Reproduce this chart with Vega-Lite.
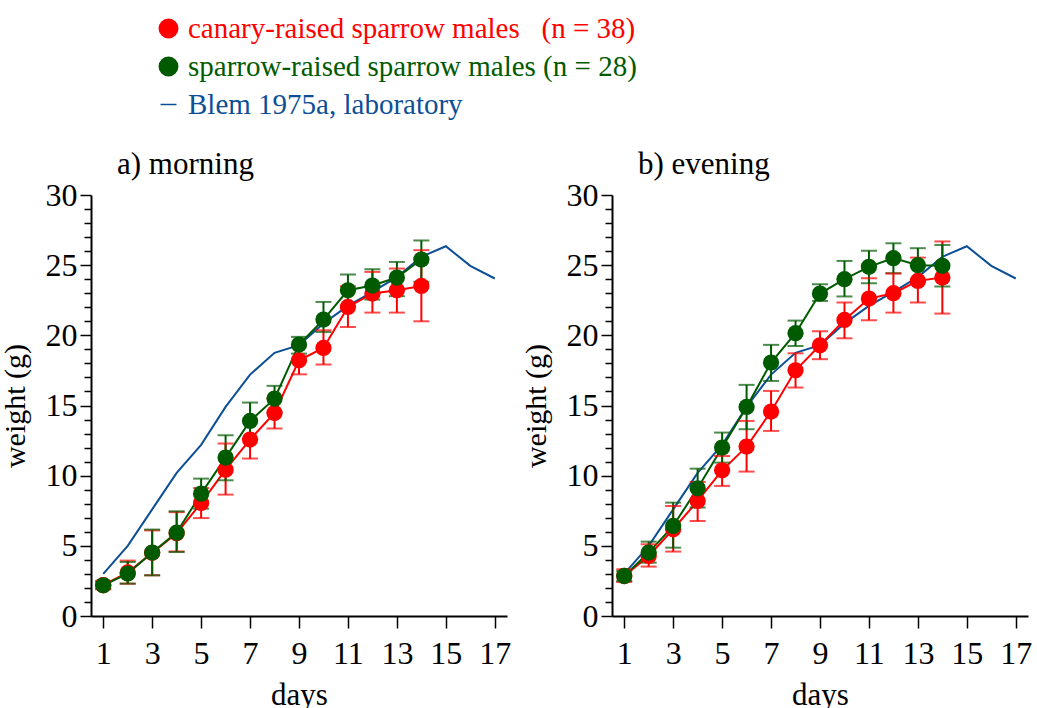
{
  "$schema": "https://vega.github.io/schema/vega-lite/v6.json",
  "background": "white",
  "padding": {"left": 0, "top": 14, "right": 0, "bottom": 0},
  "config": {
    "font": "Liberation Serif",
    "view": {"stroke": null},
    "axis": {"grid": false, "domainColor": "black", "tickColor": "black", "domainWidth": 2, "tickWidth": 1.5,
      "labelFont": "Liberation Serif", "labelFontSize": 32, "labelColor": "black", "labelOverlap": false,
      "titleFont": "Liberation Serif", "titleFontSize": 31, "titleFontWeight": "normal", "titleColor": "black"},
    "axisY": {"titleFontSize": 30, "titlePadding": 15, "labelPadding": 3},
    "title": {"font": "Liberation Serif", "fontSize": 31, "fontWeight": "normal", "color": "black"}
  },
  "datasets": {
    "d": [
      {"p": "a", "day": 1, "s": "b", "w": 3.0},
      {"p": "a", "day": 2, "s": "b", "w": 5.0},
      {"p": "a", "day": 3, "s": "b", "w": 7.6},
      {"p": "a", "day": 4, "s": "b", "w": 10.2},
      {"p": "a", "day": 5, "s": "b", "w": 12.2},
      {"p": "a", "day": 6, "s": "b", "w": 14.9},
      {"p": "a", "day": 7, "s": "b", "w": 17.2},
      {"p": "a", "day": 8, "s": "b", "w": 18.75},
      {"p": "a", "day": 9, "s": "b", "w": 19.3},
      {"p": "a", "day": 10, "s": "b", "w": 20.85},
      {"p": "a", "day": 11, "s": "b", "w": 22.1},
      {"p": "a", "day": 12, "s": "b", "w": 23.1},
      {"p": "a", "day": 13, "s": "b", "w": 24.15},
      {"p": "a", "day": 14, "s": "b", "w": 25.6},
      {"p": "a", "day": 15, "s": "b", "w": 26.35},
      {"p": "a", "day": 16, "s": "b", "w": 24.95},
      {"p": "a", "day": 17, "s": "b", "w": 24.05},
      {"p": "b", "day": 1, "s": "b", "w": 3.0},
      {"p": "b", "day": 2, "s": "b", "w": 5.0},
      {"p": "b", "day": 3, "s": "b", "w": 7.6},
      {"p": "b", "day": 4, "s": "b", "w": 10.2},
      {"p": "b", "day": 5, "s": "b", "w": 12.2},
      {"p": "b", "day": 6, "s": "b", "w": 14.9},
      {"p": "b", "day": 7, "s": "b", "w": 17.2},
      {"p": "b", "day": 8, "s": "b", "w": 18.75},
      {"p": "b", "day": 9, "s": "b", "w": 19.3},
      {"p": "b", "day": 10, "s": "b", "w": 20.85},
      {"p": "b", "day": 11, "s": "b", "w": 22.1},
      {"p": "b", "day": 12, "s": "b", "w": 23.1},
      {"p": "b", "day": 13, "s": "b", "w": 24.15},
      {"p": "b", "day": 14, "s": "b", "w": 25.6},
      {"p": "b", "day": 15, "s": "b", "w": 26.35},
      {"p": "b", "day": 16, "s": "b", "w": 24.95},
      {"p": "b", "day": 17, "s": "b", "w": 24.05},
      {"p": "a", "day": 1, "s": "c", "w": 2.2, "lo": 1.9, "hi": 2.5},
      {"p": "a", "day": 2, "s": "c", "w": 3.1, "lo": 2.3, "hi": 3.95},
      {"p": "a", "day": 3, "s": "c", "w": 4.5, "lo": 2.9, "hi": 6.1},
      {"p": "a", "day": 4, "s": "c", "w": 5.9, "lo": 4.6, "hi": 7.4},
      {"p": "a", "day": 5, "s": "c", "w": 8.05, "lo": 6.98, "hi": 9.12},
      {"p": "a", "day": 6, "s": "c", "w": 10.43, "lo": 8.65, "hi": 12.29},
      {"p": "a", "day": 7, "s": "c", "w": 12.57, "lo": 11.22, "hi": 13.9},
      {"p": "a", "day": 8, "s": "c", "w": 14.47, "lo": 13.36, "hi": 15.5},
      {"p": "a", "day": 9, "s": "c", "w": 18.22, "lo": 17.22, "hi": 19.25},
      {"p": "a", "day": 10, "s": "c", "w": 19.1, "lo": 17.92, "hi": 20.36},
      {"p": "a", "day": 11, "s": "c", "w": 22.02, "lo": 20.6, "hi": 23.5},
      {"p": "a", "day": 12, "s": "c", "w": 22.98, "lo": 21.62, "hi": 24.52},
      {"p": "a", "day": 13, "s": "c", "w": 23.21, "lo": 21.62, "hi": 24.76},
      {"p": "a", "day": 14, "s": "c", "w": 23.52, "lo": 21.0, "hi": 26.07},
      {"p": "b", "day": 1, "s": "c", "w": 2.85, "lo": 2.42, "hi": 3.33},
      {"p": "b", "day": 2, "s": "c", "w": 4.28, "lo": 3.52, "hi": 5.11},
      {"p": "b", "day": 3, "s": "c", "w": 6.18, "lo": 4.59, "hi": 7.84},
      {"p": "b", "day": 4, "s": "c", "w": 8.2, "lo": 6.77, "hi": 9.55},
      {"p": "b", "day": 5, "s": "c", "w": 10.38, "lo": 9.27, "hi": 11.4},
      {"p": "b", "day": 6, "s": "c", "w": 12.07, "lo": 10.29, "hi": 13.9},
      {"p": "b", "day": 7, "s": "c", "w": 14.57, "lo": 13.19, "hi": 16.04},
      {"p": "b", "day": 8, "s": "c", "w": 17.51, "lo": 16.28, "hi": 18.72},
      {"p": "b", "day": 9, "s": "c", "w": 19.29, "lo": 18.3, "hi": 20.29},
      {"p": "b", "day": 10, "s": "c", "w": 21.1, "lo": 19.79, "hi": 22.34},
      {"p": "b", "day": 11, "s": "c", "w": 22.62, "lo": 21.08, "hi": 24.07},
      {"p": "b", "day": 12, "s": "c", "w": 23.0, "lo": 21.62, "hi": 24.4},
      {"p": "b", "day": 13, "s": "c", "w": 23.88, "lo": 22.34, "hi": 25.54},
      {"p": "b", "day": 14, "s": "c", "w": 24.12, "lo": 21.55, "hi": 26.69},
      {"p": "a", "day": 1, "s": "s", "w": 2.19, "lo": 1.95, "hi": 2.45},
      {"p": "a", "day": 2, "s": "s", "w": 3.02, "lo": 2.31, "hi": 3.85},
      {"p": "a", "day": 3, "s": "s", "w": 4.52, "lo": 2.9, "hi": 6.16},
      {"p": "a", "day": 4, "s": "s", "w": 5.94, "lo": 4.56, "hi": 7.46},
      {"p": "a", "day": 5, "s": "s", "w": 8.72, "lo": 7.65, "hi": 9.79},
      {"p": "a", "day": 6, "s": "s", "w": 11.29, "lo": 9.67, "hi": 12.88},
      {"p": "a", "day": 7, "s": "s", "w": 13.9, "lo": 12.64, "hi": 15.21},
      {"p": "a", "day": 8, "s": "s", "w": 15.49, "lo": 14.5, "hi": 16.4},
      {"p": "a", "day": 9, "s": "s", "w": 19.34, "lo": 18.7, "hi": 19.89},
      {"p": "a", "day": 10, "s": "s", "w": 21.12, "lo": 20.24, "hi": 22.38},
      {"p": "a", "day": 11, "s": "s", "w": 23.21, "lo": 22.07, "hi": 24.33},
      {"p": "a", "day": 12, "s": "s", "w": 23.55, "lo": 22.55, "hi": 24.71},
      {"p": "a", "day": 13, "s": "s", "w": 24.12, "lo": 22.79, "hi": 25.23},
      {"p": "a", "day": 14, "s": "s", "w": 25.4, "lo": 23.81, "hi": 26.76},
      {"p": "b", "day": 1, "s": "s", "w": 2.85, "lo": 2.5, "hi": 3.2},
      {"p": "b", "day": 2, "s": "s", "w": 4.52, "lo": 3.8, "hi": 5.3},
      {"p": "b", "day": 3, "s": "s", "w": 6.42, "lo": 4.87, "hi": 8.08},
      {"p": "b", "day": 4, "s": "s", "w": 9.1, "lo": 7.73, "hi": 10.5},
      {"p": "b", "day": 5, "s": "s", "w": 12.0, "lo": 10.93, "hi": 13.07},
      {"p": "b", "day": 6, "s": "s", "w": 14.9, "lo": 13.31, "hi": 16.47},
      {"p": "b", "day": 7, "s": "s", "w": 18.06, "lo": 16.75, "hi": 19.32},
      {"p": "b", "day": 8, "s": "s", "w": 20.15, "lo": 19.24, "hi": 21.05},
      {"p": "b", "day": 9, "s": "s", "w": 22.98, "lo": 22.45, "hi": 23.64},
      {"p": "b", "day": 10, "s": "s", "w": 24.0, "lo": 22.77, "hi": 25.3},
      {"p": "b", "day": 11, "s": "s", "w": 24.88, "lo": 23.71, "hi": 26.02},
      {"p": "b", "day": 12, "s": "s", "w": 25.5, "lo": 24.43, "hi": 26.56},
      {"p": "b", "day": 13, "s": "s", "w": 25.0, "lo": 23.81, "hi": 26.21},
      {"p": "b", "day": 14, "s": "s", "w": 24.95, "lo": 23.48, "hi": 26.44}
    ]
  },
  "spacing": 10,
  "hconcat": [
    {
      "width": 416, "height": 421,
      "title": {"text": "a) morning", "anchor": "start", "frame": "group", "dx": 26, "offset": -2},
      "data": {"name": "d"},
      "transform": [{"filter": "datum.p == 'a'"}],
      "encoding": {
        "x": {"field": "day", "type": "quantitative", "scale": {"domain": [0.5, 17.5], "nice": false, "zero": false},
          "axis": {"values": [1, 3, 5, 7, 9, 11, 13, 15, 17], "title": "days", "tickSize": 12, "labelPadding": 10, "titlePadding": 11}},
        "color": {"field": "s", "type": "nominal",
          "scale": {"domain": ["c", "s", "b"], "range": ["#ff0000", "#005a00", "#0d4f96"]},
          "legend": {"orient": "none", "legendX": 63, "legendY": -181, "title": null, "direction": "vertical",
            "labelFont": "Liberation Serif", "labelFontSize": 29, "labelLimit": 0, "labelOffset": 5, "rowPadding": 8,
            "labelExpr": "datum.value == 'c' ? 'canary-raised sparrow males\u00a0\u00a0\u00a0(n = 38)' : datum.value == 's' ? 'sparrow-raised sparrow males (n = 28)' : 'Blem 1975a, laboratory'",
            "encode": {
              "symbols": {"update": {
                "shape": {"signal": "datum.value == 'b' ? 'stroke' : 'circle'"},
                "size": {"signal": "datum.value == 'b' ? 256 : 340"},
                "fill": {"signal": "datum.value == 'b' ? 'transparent' : datum.value == 'c' ? '#ff0000' : '#005a00'"},
                "stroke": {"signal": "datum.value == 'b' ? '#0d4f96' : 'transparent'"},
                "strokeWidth": {"value": 1.5},
                "opacity": {"value": 1}
              }},
              "labels": {"update": {
                "fill": {"signal": "datum.value == 'c' ? '#ff0000' : datum.value == 's' ? '#005a00' : '#0d4f96'"}
              }}
            }}
        }
      },
      "layer": [
        {"mark": {"type": "line", "strokeWidth": 2},
         "encoding": {"y": {"field": "w", "type": "quantitative", "scale": {"domain": [0, 30], "nice": false},
           "axis": {"values": [0,1,2,3,4,5,6,7,8,9,10,11,12,13,14,15,16,17,18,19,20,21,22,23,24,25,26,27,28,29,30], "labelExpr": "datum.value % 5 === 0 ? datum.label : ''", "labelOverlap": false, "tickSize": {"condition": {"test": "datum.value % 5 !== 0", "value": 7}, "value": 11}, "title": "weight (g)"}}}},
        {"transform": [{"filter": "datum.lo != null"}],
         "mark": {"type": "rule", "strokeWidth": 2},
         "encoding": {"y": {"field": "lo", "type": "quantitative",
           "axis": {"values": [0,1,2,3,4,5,6,7,8,9,10,11,12,13,14,15,16,17,18,19,20,21,22,23,24,25,26,27,28,29,30], "labelExpr": "datum.value % 5 === 0 ? datum.label : ''", "labelOverlap": false, "tickSize": {"condition": {"test": "datum.value % 5 !== 0", "value": 7}, "value": 11}, "title": "weight (g)"}}, "y2": {"field": "hi"}}},
        {"transform": [{"filter": "datum.lo != null"}],
         "mark": {"type": "tick", "orient": "horizontal", "size": 16, "thickness": 2},
         "encoding": {"y": {"field": "lo", "type": "quantitative",
           "axis": {"values": [0,1,2,3,4,5,6,7,8,9,10,11,12,13,14,15,16,17,18,19,20,21,22,23,24,25,26,27,28,29,30], "labelExpr": "datum.value % 5 === 0 ? datum.label : ''", "labelOverlap": false, "tickSize": {"condition": {"test": "datum.value % 5 !== 0", "value": 7}, "value": 11}, "title": "weight (g)"}}}},
        {"transform": [{"filter": "datum.lo != null"}],
         "mark": {"type": "tick", "orient": "horizontal", "size": 16, "thickness": 2},
         "encoding": {"y": {"field": "hi", "type": "quantitative",
           "axis": {"values": [0,1,2,3,4,5,6,7,8,9,10,11,12,13,14,15,16,17,18,19,20,21,22,23,24,25,26,27,28,29,30], "labelExpr": "datum.value % 5 === 0 ? datum.label : ''", "labelOverlap": false, "tickSize": {"condition": {"test": "datum.value % 5 !== 0", "value": 7}, "value": 11}, "title": "weight (g)"}}}},
        {"transform": [{"filter": "datum.lo != null"}],
         "mark": {"type": "circle", "size": 265, "opacity": 1},
         "encoding": {"y": {"field": "w", "type": "quantitative",
           "axis": {"values": [0,1,2,3,4,5,6,7,8,9,10,11,12,13,14,15,16,17,18,19,20,21,22,23,24,25,26,27,28,29,30], "labelExpr": "datum.value % 5 === 0 ? datum.label : ''", "labelOverlap": false, "tickSize": {"condition": {"test": "datum.value % 5 !== 0", "value": 7}, "value": 11}, "title": "weight (g)"}}}}
      ]
    },
    {
      "width": 416, "height": 421,
      "title": {"text": "b) evening", "anchor": "start", "frame": "group", "dx": 26, "offset": -2},
      "data": {"name": "d"},
      "transform": [{"filter": "datum.p == 'b'"}],
      "encoding": {
        "x": {"field": "day", "type": "quantitative", "scale": {"domain": [0.5, 17.5], "nice": false, "zero": false},
          "axis": {"values": [1, 3, 5, 7, 9, 11, 13, 15, 17], "title": "days", "tickSize": 12, "labelPadding": 10, "titlePadding": 11}},
        "color": {"field": "s", "type": "nominal",
          "scale": {"domain": ["c", "s", "b"], "range": ["#ff0000", "#005a00", "#0d4f96"]}}
      },
      "layer": [
        {"mark": {"type": "line", "strokeWidth": 2},
         "encoding": {"y": {"field": "w", "type": "quantitative", "scale": {"domain": [0, 30], "nice": false},
           "axis": {"values": [0,1,2,3,4,5,6,7,8,9,10,11,12,13,14,15,16,17,18,19,20,21,22,23,24,25,26,27,28,29,30], "labelExpr": "datum.value % 5 === 0 ? datum.label : ''", "labelOverlap": false, "tickSize": {"condition": {"test": "datum.value % 5 !== 0", "value": 7}, "value": 11}, "title": "weight (g)"}}}},
        {"transform": [{"filter": "datum.lo != null"}],
         "mark": {"type": "rule", "strokeWidth": 2},
         "encoding": {"y": {"field": "lo", "type": "quantitative",
           "axis": {"values": [0,1,2,3,4,5,6,7,8,9,10,11,12,13,14,15,16,17,18,19,20,21,22,23,24,25,26,27,28,29,30], "labelExpr": "datum.value % 5 === 0 ? datum.label : ''", "labelOverlap": false, "tickSize": {"condition": {"test": "datum.value % 5 !== 0", "value": 7}, "value": 11}, "title": "weight (g)"}}, "y2": {"field": "hi"}}},
        {"transform": [{"filter": "datum.lo != null"}],
         "mark": {"type": "tick", "orient": "horizontal", "size": 16, "thickness": 2},
         "encoding": {"y": {"field": "lo", "type": "quantitative",
           "axis": {"values": [0,1,2,3,4,5,6,7,8,9,10,11,12,13,14,15,16,17,18,19,20,21,22,23,24,25,26,27,28,29,30], "labelExpr": "datum.value % 5 === 0 ? datum.label : ''", "labelOverlap": false, "tickSize": {"condition": {"test": "datum.value % 5 !== 0", "value": 7}, "value": 11}, "title": "weight (g)"}}}},
        {"transform": [{"filter": "datum.lo != null"}],
         "mark": {"type": "tick", "orient": "horizontal", "size": 16, "thickness": 2},
         "encoding": {"y": {"field": "hi", "type": "quantitative",
           "axis": {"values": [0,1,2,3,4,5,6,7,8,9,10,11,12,13,14,15,16,17,18,19,20,21,22,23,24,25,26,27,28,29,30], "labelExpr": "datum.value % 5 === 0 ? datum.label : ''", "labelOverlap": false, "tickSize": {"condition": {"test": "datum.value % 5 !== 0", "value": 7}, "value": 11}, "title": "weight (g)"}}}},
        {"transform": [{"filter": "datum.lo != null"}],
         "mark": {"type": "circle", "size": 265, "opacity": 1},
         "encoding": {"y": {"field": "w", "type": "quantitative",
           "axis": {"values": [0,1,2,3,4,5,6,7,8,9,10,11,12,13,14,15,16,17,18,19,20,21,22,23,24,25,26,27,28,29,30], "labelExpr": "datum.value % 5 === 0 ? datum.label : ''", "labelOverlap": false, "tickSize": {"condition": {"test": "datum.value % 5 !== 0", "value": 7}, "value": 11}, "title": "weight (g)"}}}}
      ]
    }
  ],
  "resolve": {"scale": {"y": "independent", "x": "independent"}}
}
